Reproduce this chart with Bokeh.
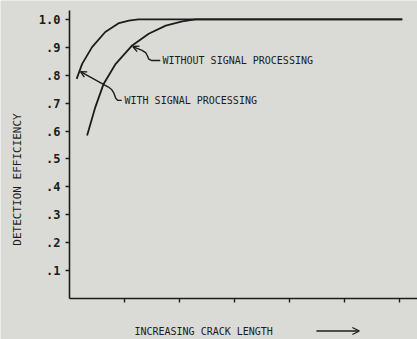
import math
from bokeh.plotting import figure
from bokeh.models import Range1d, FixedTicker, Label, Arrow, OpenHead
from bokeh.embed import file_html
from bokeh.resources import INLINE

# ---- data ----
with_x = [0.13, 0.23, 0.41, 0.65, 0.90, 1.08, 1.25, 6.05]
with_y = [0.787, 0.841, 0.901, 0.955, 0.987, 0.996, 1.0, 1.0]

without_x = [0.32, 0.47, 0.62, 0.84, 1.14, 1.44, 1.75, 2.05, 2.29, 6.05]
without_y = [0.584, 0.686, 0.769, 0.841, 0.907, 0.949, 0.978, 0.993, 1.0, 1.0]

x_ticks = [1, 2, 3, 4, 5, 6]
y_ticks = [0.1, 0.2, 0.3, 0.4, 0.5, 0.6, 0.7, 0.8, 0.9, 1.0]
y_tick_labels = [".1", ".2", ".3", ".4", ".5", ".6", ".7", ".8", ".9", "1.0"]

y_title = "DETECTION EFFICIENCY"
x_title = "INCREASING CRACK LENGTH"
label_without = "WITHOUT SIGNAL PROCESSING"
label_with = "WITH SIGNAL PROCESSING"

# leader paths (annotation geometry)
lead_without_x = [1.32, 1.39, 1.42, 1.44, 1.49, 1.65]
lead_without_y = [0.889, 0.880, 0.868, 0.858, 0.853, 0.853]
lead_with_x = [0.715, 0.77, 0.81, 0.84, 0.88, 0.95]
lead_with_y = [0.757, 0.748, 0.735, 0.718, 0.710, 0.710]

BG = "#dadad6"
INK = "#1c1c1c"
FONT = "DejaVu Sans Mono"

# frame covers the whole canvas; axes are pinned at 0 with fixed_location
p = figure(width=417, height=339, output_backend="svg", toolbar_location=None,
           title=None,
           x_range=Range1d(-1.2545, 6.327), y_range=Range1d(-0.147, 1.068),
           min_border_left=0, min_border_right=0, min_border_top=0,
           min_border_bottom=0)
p.background_fill_color = BG
p.border_fill_color = BG
p.outline_line_color = None
p.grid.visible = False

p.line(with_x, with_y, line_color=INK, line_width=1.8)
p.line(without_x, without_y, line_color=INK, line_width=1.8)

# axes
xa = p.xaxis[0]
xa.fixed_location = 0
xa.bounds = (0, 6.33)
xa.ticker = FixedTicker(ticks=x_ticks)
xa.major_label_text_font_size = "0px"
xa.major_label_text_color = None
xa.major_tick_in = 0
xa.major_tick_out = 4
xa.minor_tick_line_color = None
xa.axis_line_color = INK
xa.axis_line_width = 1.6
xa.major_tick_line_color = INK
xa.major_tick_line_width = 1.4

ya = p.yaxis[0]
ya.fixed_location = 0
ya.bounds = (0, 1.032)
ya.ticker = FixedTicker(ticks=y_ticks)
ya.major_label_overrides = {t: s for t, s in zip(y_ticks, y_tick_labels)}
ya.major_label_text_font = FONT
ya.major_label_text_font_size = "12px"
ya.major_label_text_color = INK
ya.major_label_text_font_style = "bold"
ya.major_label_standoff = 5
ya.major_tick_in = 0
ya.major_tick_out = 4
ya.minor_tick_line_color = None
ya.axis_line_color = INK
ya.axis_line_width = 1.6
ya.major_tick_line_color = INK
ya.major_tick_line_width = 1.4

# leaders
p.line(lead_without_x, lead_without_y, line_color=INK, line_width=1.4)
p.line(lead_with_x, lead_with_y, line_color=INK, line_width=1.4)
p.add_layout(Arrow(end=OpenHead(size=6, line_color=INK, line_width=1.4),
                   x_start=lead_without_x[0], y_start=lead_without_y[0],
                   x_end=1.15, y_end=0.903, line_color=INK, line_width=1.4))
p.add_layout(Arrow(end=OpenHead(size=6, line_color=INK, line_width=1.4),
                   x_start=lead_with_x[0], y_start=lead_with_y[0],
                   x_end=0.2, y_end=0.813, line_color=INK, line_width=1.4))

p.add_layout(Label(x=1.69, y=0.853, text=label_without, text_font=FONT,
                   text_font_size="10px", text_color=INK, text_baseline="middle"))
p.add_layout(Label(x=1.0, y=0.710, text=label_with, text_font=FONT,
                   text_font_size="10px", text_color=INK, text_baseline="middle"))

# axis titles
p.add_layout(Label(x=-0.9455, y=0.4265, text=y_title, text_font=FONT,
                   text_font_size="11px", text_color=INK, angle=math.pi / 2,
                   text_align="center", text_baseline="middle"))
p.add_layout(Label(x=1.18, y=-0.119, text=x_title, text_font=FONT,
                   text_font_size="10px", text_color=INK, text_baseline="middle"))
p.add_layout(Arrow(end=OpenHead(size=7, line_color=INK, line_width=1.3),
                   x_start=4.49, y_start=-0.1165, x_end=5.27, y_end=-0.1165,
                   line_color=INK, line_width=1.3))

open("out.html", "w").write(file_html(p, INLINE))
